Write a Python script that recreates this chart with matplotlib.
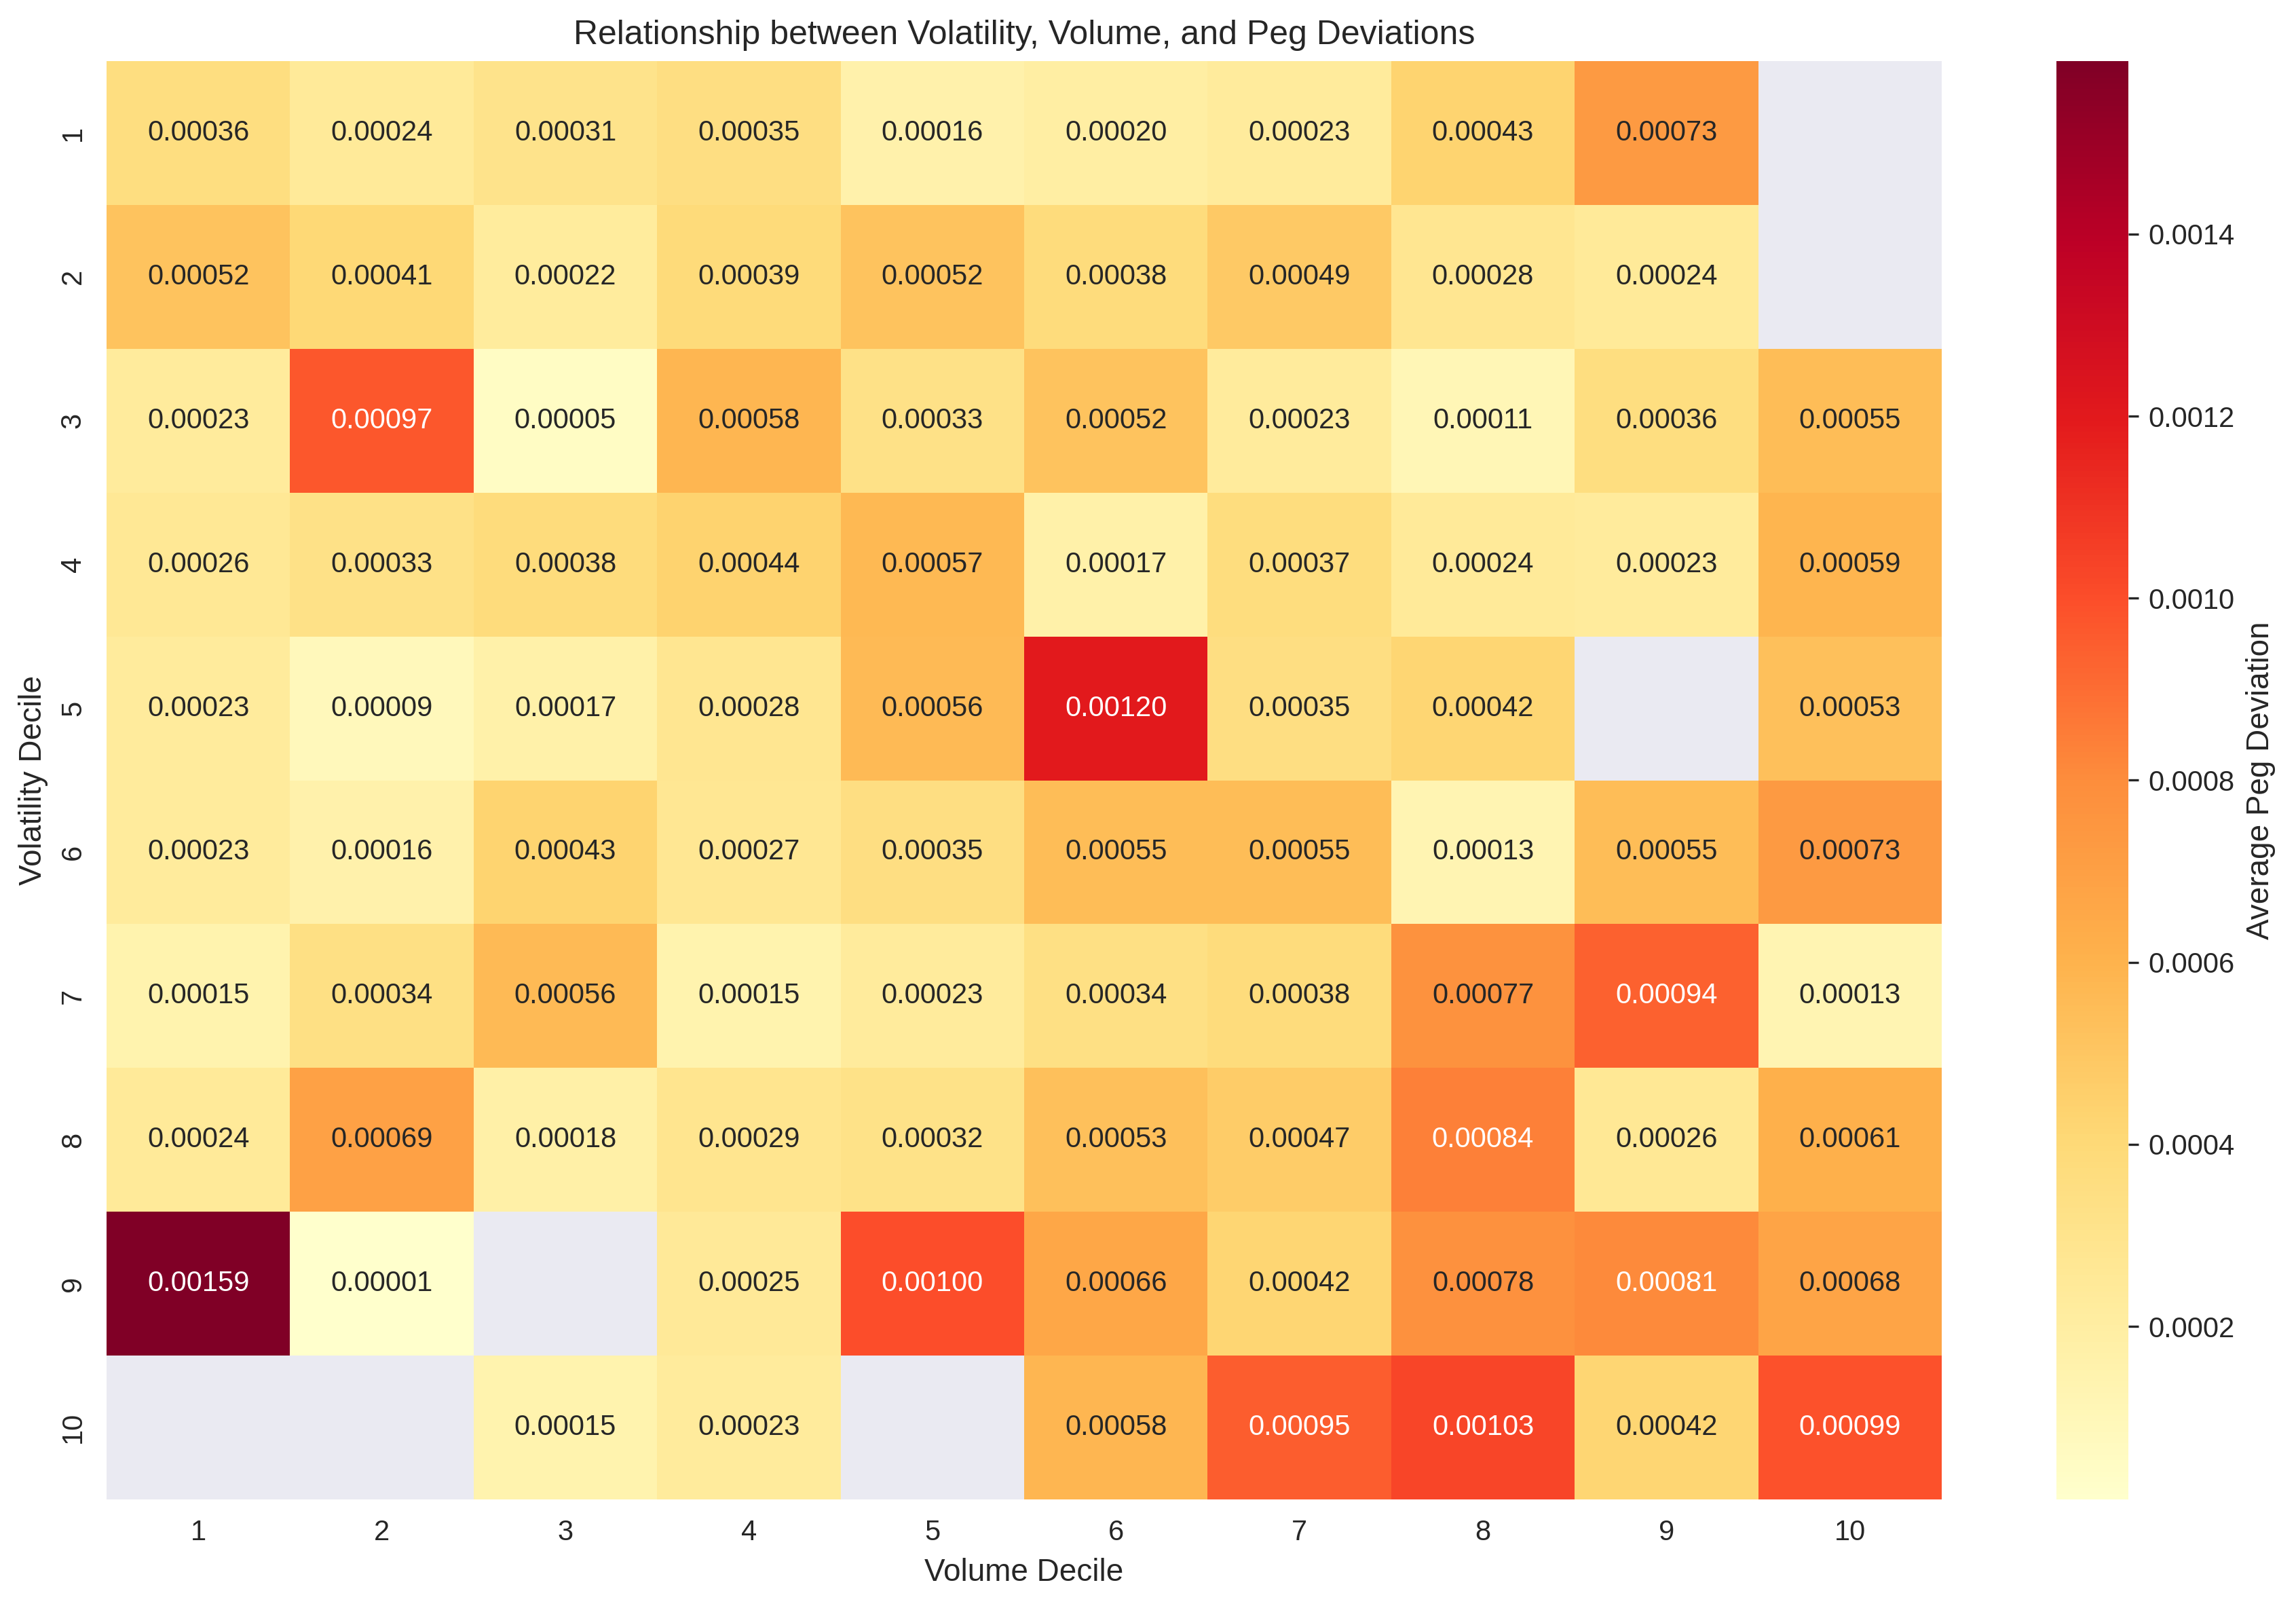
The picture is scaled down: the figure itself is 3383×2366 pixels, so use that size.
import numpy as np
import pandas as pd
import matplotlib
matplotlib.use('Agg')
import matplotlib.pyplot as plt
import seaborn as sns

# =============================
# DATOS
# =============================
vol_deciles = [1, 2, 3, 4, 5, 6, 7, 8, 9, 10]      # filas (Volatility Decile)
volume_deciles = [1, 2, 3, 4, 5, 6, 7, 8, 9, 10]   # columnas (Volume Decile)

fila_1 = [0.00036, 0.00024, 0.00031, 0.00035, 0.00016, 0.00020, 0.00023, 0.00043, 0.00073, np.nan]
fila_2 = [0.00052, 0.00041, 0.00022, 0.00039, 0.00052, 0.00038, 0.00049, 0.00028, 0.00024, np.nan]
fila_3 = [0.00023, 0.00097, 0.00005, 0.00058, 0.00033, 0.00052, 0.00023, 0.00011, 0.00036, 0.00055]
fila_4 = [0.00026, 0.00033, 0.00038, 0.00044, 0.00057, 0.00017, 0.00037, 0.00024, 0.00023, 0.00059]
fila_5 = [0.00023, 0.00009, 0.00017, 0.00028, 0.00056, 0.00120, 0.00035, 0.00042, np.nan, 0.00053]
fila_6 = [0.00023, 0.00016, 0.00043, 0.00027, 0.00035, 0.00055, 0.00055, 0.00013, 0.00055, 0.00073]
fila_7 = [0.00015, 0.00034, 0.00056, 0.00015, 0.00023, 0.00034, 0.00038, 0.00077, 0.00094, 0.00013]
fila_8 = [0.00024, 0.00069, 0.00018, 0.00029, 0.00032, 0.00053, 0.00047, 0.00084, 0.00026, 0.00061]
fila_9 = [0.00159, 0.00001, np.nan, 0.00025, 0.00100, 0.00066, 0.00042, 0.00078, 0.00081, 0.00068]
fila_10 = [np.nan, np.nan, 0.00015, 0.00023, np.nan, 0.00058, 0.00095, 0.00103, 0.00042, 0.00099]

tabla = pd.DataFrame(
    [fila_1, fila_2, fila_3, fila_4, fila_5, fila_6, fila_7, fila_8, fila_9, fila_10],
    index=vol_deciles, columns=volume_deciles
)

# =============================
# GRAFICO
# =============================
sns.set_style("darkgrid")
plt.rcParams['font.family'] = ['Liberation Sans', 'DejaVu Sans']
plt.rcParams['font.size'] = 10

W, H = 3383, 2366
fig = plt.figure(figsize=(W / 300, H / 300), dpi=300)
# posiciones en pixeles medidas en la referencia
ax = fig.add_axes([157 / W, 1 - 2209 / H, (2861 - 157) / W, (2209 - 90) / H])
cax = fig.add_axes([3030 / W, 1 - 2209 / H, (3136 - 3030) / W, (2209 - 90) / H])

sns.heatmap(tabla, annot=True, fmt=".5f", cmap="YlOrRd", ax=ax, cbar_ax=cax,
            annot_kws={"size": 10},
            cbar_kws={"label": "Average Peg Deviation"})
ax.grid(False)
ax.set_title("Relationship between Volatility, Volume, and Peg Deviations", fontsize=12)
ax.set_xlabel("Volume Decile", fontsize=11)
ax.set_ylabel("Volatility Decile", fontsize=11)
ax.tick_params(labelsize=10)
cax.tick_params(labelsize=10)
cax.yaxis.label.set_size(11)

plt.savefig("out.png", dpi=300)
